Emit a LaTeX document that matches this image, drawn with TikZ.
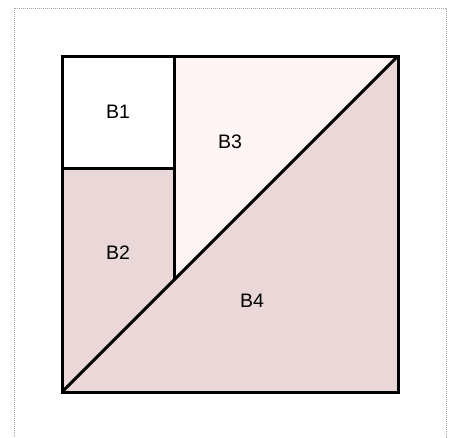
\documentclass[tikz,border=0pt]{standalone}
\usepackage{fontspec}
\setmainfont{Liberation Sans}
\definecolor{pinkA}{RGB}{234,216,217}
\definecolor{pinkB}{RGB}{255,245,245}
\tikzset{
  region/.style={draw=black, line width=3pt, line join=miter},
  lbl/.style={font=\fontsize{19.5}{22}\selectfont, inner sep=0pt},
  frameline/.style={draw=gray!70, line width=0.8pt, dash pattern=on 1pt off 1pt}
}
\begin{document}
\begin{tikzpicture}[x=1pt,y=-1pt]
\useasboundingbox (0,0) rectangle (449,437);
\draw[frameline] (14,445) -- (14,8) -- (446,8) -- (446,445);
\coordinate (TL) at (62,56);
\coordinate (TR) at (398,56);
\coordinate (BL) at (62,392);
\coordinate (BR) at (398,392);
\coordinate (M) at (174,168);
\coordinate (ML) at (62,168);
\coordinate (MT) at (174,56);
\coordinate (J) at (174,280);
% fills
\fill[pinkA] (BL) -- (TR) -- (BR) -- cycle;
\fill[pinkA] (ML) -- (M) -- (J) -- (BL) -- cycle;
\fill[pinkB] (MT) -- (TR) -- (J) -- cycle;
\fill[white] (TL) -- (MT) -- (M) -- (ML) -- cycle;
% lines
\draw[region] (TL) rectangle (BR);
\draw[region] (BL) -- (TR);
\draw[region] (MT) -- (J);
\draw[region] (ML) -- (M);
% labels
\node[lbl] (b1) at (118,112) {B1};
\node[lbl] (b2) at (118,253) {B2};
\node[lbl] (b3) at (230,142) {B3};
\node[lbl] (b4) at (252,301) {B4};
\end{tikzpicture}
\end{document}
